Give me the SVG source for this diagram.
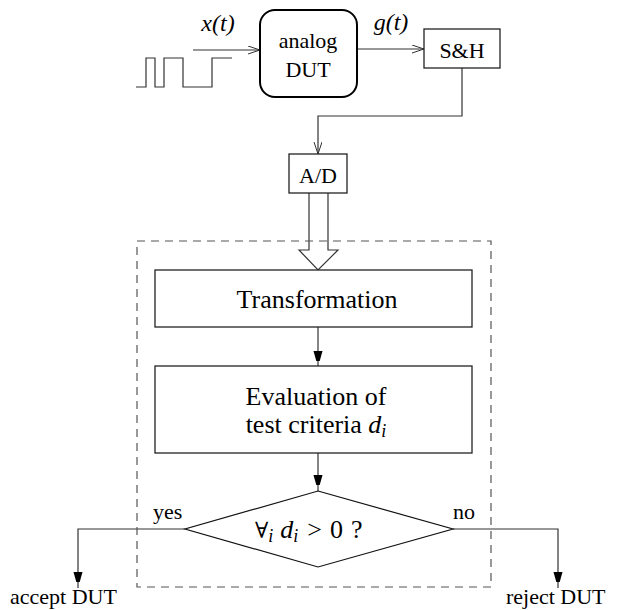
<svg xmlns="http://www.w3.org/2000/svg" width="619" height="610" viewBox="0 0 619 610">
<defs>
<style>
text{font-family:"Liberation Serif","Times New Roman",serif;fill:#000}
.t22{font-size:22px}
.t24{font-size:24px}
.t26{font-size:26px}
.c{text-anchor:middle}
.it{font-style:italic}
.box{fill:#fff;stroke:#222;stroke-width:1.3}
.ln{fill:none;stroke:#333;stroke-width:1.2}
</style>
<marker id="open" markerWidth="14" markerHeight="10" refX="12" refY="4" orient="auto" markerUnits="userSpaceOnUse">
<path d="M0,0 L12,4 L0,8" fill="none" stroke="#333" stroke-width="1"/>
</marker>
<marker id="fill" markerWidth="10" markerHeight="18" refX="16" refY="4.5" orient="auto" markerUnits="userSpaceOnUse">
<path d="M0,0 L16,4.5 L0,9 Z" fill="#000"/>
</marker>
</defs>

<g id="connectors">
<path class="ln" d="M136,87 H146 V58 H155 V87 H164 V58 H183 V87 H212 V58 H232"/>
<path class="ln" d="M193,50 H260" marker-end="url(#open)"/>
<path class="ln" d="M357,49 H424" marker-end="url(#open)"/>
<path class="ln" d="M462,68 V116 H318 V154" marker-end="url(#open)"/>
<path class="ln" d="M309,193 V250 H299 L318,270 L338,250 H328 V193"/>
<path class="ln" d="M318,327 V367" marker-end="url(#fill)"/>
<path class="ln" d="M318,453 V491" marker-end="url(#fill)"/>
<path class="ln" d="M185,529 H78 V588" marker-end="url(#fill)"/>
<path class="ln" d="M453,529 H558 V588" marker-end="url(#fill)"/>
</g>

<rect id="frame" x="137" y="241" width="354" height="346" fill="none" stroke="#555" stroke-width="1.2" stroke-dasharray="8,6"/>

<g id="labels">
<text class="t24 it c" x="218" y="31">x(t)</text>
<text class="t24 it c" x="391" y="30">g(t)</text>
<text class="t22" x="153" y="519">yes</text>
<text class="t22" x="453" y="519">no</text>
<text class="t22" x="10" y="604">accept DUT</text>
<text class="t22" x="506" y="604">reject DUT</text>
</g>

<g id="dut">
<rect x="260" y="10" width="97" height="87" rx="15" ry="15" fill="#fff" stroke="#000" stroke-width="2"/>
<text class="t22 c" x="308" y="48">analog</text>
<text class="t22 c" x="308" y="77">DUT</text>
</g>

<g id="sh">
<rect class="box" x="424" y="29" width="76" height="39"/>
<text class="t22 c" x="462" y="58">S&amp;H</text>
</g>

<g id="ad">
<rect class="box" x="289" y="154" width="58" height="39"/>
<text class="t22 c" x="318" y="183">A/D</text>
</g>

<g id="transformation">
<rect class="box" x="155" y="270" width="317" height="57"/>
<text class="t26 c" x="317" y="308">Transformation</text>
</g>

<g id="evaluation">
<rect class="box" x="155" y="366" width="317" height="87"/>
<text class="t26 c" x="316" y="405">Evaluation of</text>
<text class="t26 c" x="316" y="433">test criteria <tspan class="it">d</tspan><tspan class="it" font-size="18" dy="4">i</tspan></text>
</g>

<g id="decision">
<polygon points="318,491 453,529 318,567 185,529" fill="#fff" stroke="#111" stroke-width="1.2"/>
<text class="t26" x="255" y="538"><tspan font-family="'DejaVu Serif',serif" font-size="22">∀</tspan><tspan class="it" font-size="18" dy="4">i</tspan><tspan class="it" dy="-4" dx="7">d</tspan><tspan class="it" font-size="18" dy="4">i</tspan><tspan dy="-4" dx="9">&gt;</tspan><tspan dx="8">0</tspan><tspan dx="8">?</tspan></text>
</g>
</svg>
